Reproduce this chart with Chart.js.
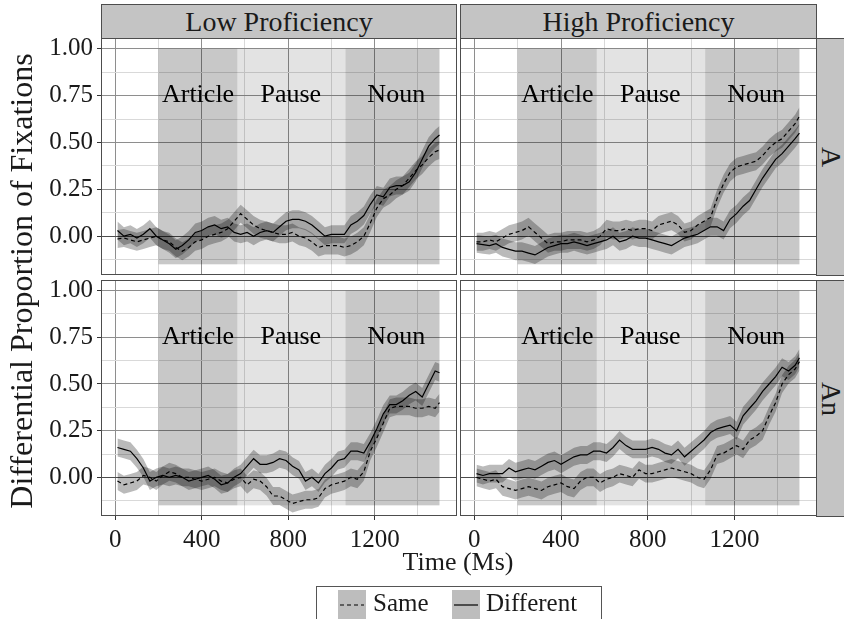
<!DOCTYPE html>
<html>
<head>
<meta charset="utf-8">
<script src="https://cdn.jsdelivr.net/npm/chart.js@4.4.0/dist/chart.umd.min.js"></script>
<style>
  body { margin: 0; width: 844px; height: 619px; background: #fff; position: relative; overflow: hidden;
         font-family: "Liberation Serif", "Times New Roman", serif; color: #1a1a1a; }
  canvas { position: absolute; }
  .strip { position: absolute; background: #c4c4c4; border: 1px solid #4d4d4d; box-sizing: border-box;
           display: flex; align-items: center; justify-content: center; font-size: 28px; }
  .vtext { transform: rotate(90deg); white-space: nowrap; }
  .title { position: absolute; white-space: nowrap; text-align: center; }
  .legend { position: absolute; left: 316px; top: 586px; width: 286px; height: 50px;
            border: 1px solid #555; box-sizing: border-box; }
  .key { position: absolute; top: 3px; width: 28px; height: 30px; background: #bdbdbd; }
  .ktext { position: absolute; top: 1px; font-size: 25px; line-height: 30px; }
</style>
</head>
<body>

<div class="strip" style="left:101px;top:4px;width:356px;height:35px;">Low Proficiency</div>
<div class="strip" style="left:460px;top:4px;width:357px;height:35px;">High Proficiency</div>
<div class="strip" style="left:816px;top:38px;width:30px;height:238px;"><span class="vtext">A</span></div>
<div class="strip" style="left:816px;top:280px;width:30px;height:237px;"><span class="vtext">An</span></div>

<canvas id="tl" width="457" height="237" style="left:0;top:38px;"></canvas>
<canvas id="tr" width="357" height="237" style="left:460px;top:38px;"></canvas>
<canvas id="bl" width="457" height="282" style="left:0;top:280px;"></canvas>
<canvas id="br" width="357" height="282" style="left:460px;top:280px;"></canvas>

<div class="title" style="left:358px;top:546px;width:200px;font-size:26px;line-height:32px;">Time (Ms)</div>
<div class="title" style="left:-279px;top:261px;width:600px;font-size:32px;line-height:40px;transform:rotate(-90deg);">Differential Proportion of Fixations</div>

<div class="legend">
  <div class="key" style="left:21px;">
    <svg width="28" height="30"><line x1="2" y1="15" x2="26" y2="15" stroke="#000" stroke-width="1.2" stroke-dasharray="4,3"/></svg>
  </div>
  <div class="ktext" style="left:56px;">Same</div>
  <div class="key" style="left:135px;">
    <svg width="28" height="30"><line x1="2" y1="15" x2="26" y2="15" stroke="#000" stroke-width="1.2"/></svg>
  </div>
  <div class="ktext" style="left:169px;">Different</div>
</div>

<script>
// time points (ms)
var times = [10, 40, 70, 100, 130, 160, 190, 220, 250, 280,
             310, 340, 370, 400, 430, 460, 490, 520, 550, 580,
             610, 640, 670, 700, 730, 760, 790, 820, 850, 880,
             910, 940, 970, 1000, 1030, 1060, 1090, 1120, 1150, 1180,
             1210, 1240, 1270, 1300, 1330, 1360, 1390, 1420, 1450, 1480,
             1500];

// Low proficiency, article "A"
var lowA_diff = [0.03, 0.00, 0.01, -0.01, 0.01, 0.04, 0.00, -0.02, -0.04, -0.07,
                 -0.05, -0.02, 0.02, 0.03, 0.05, 0.06, 0.04, 0.05, 0.02, 0.01,
                 0.02, 0.00, 0.02, 0.03, 0.02, 0.05, 0.08, 0.09, 0.09, 0.08,
                 0.06, 0.03, 0.00, 0.01, 0.01, 0.01, 0.06, 0.08, 0.11, 0.17,
                 0.22, 0.21, 0.26, 0.27, 0.27, 0.29, 0.34, 0.41, 0.48, 0.52,
                 0.54];
var lowA_same = [-0.015, -0.01, -0.02, -0.03, -0.02, -0.01, 0.00, -0.02, -0.03, -0.06,
                 -0.08, -0.06, -0.03, -0.02, 0.00, 0.01, 0.02, 0.04, 0.08, 0.12,
                 0.09, 0.06, 0.04, 0.03, 0.02, 0.01, 0.01, 0.02, 0.00, -0.01,
                 -0.03, -0.06, -0.05, -0.05, -0.05, -0.06, -0.05, -0.03, 0.00, 0.07,
                 0.15, 0.20, 0.22, 0.25, 0.27, 0.31, 0.35, 0.38, 0.42, 0.45,
                 0.46];

// High proficiency, article "A"
var highA_diff = [-0.04, -0.045, -0.05, -0.04, -0.06, -0.07, -0.08, -0.08, -0.09, -0.10,
                  -0.08, -0.06, -0.05, -0.04, -0.04, -0.03, -0.04, -0.05, -0.04, -0.03,
                  -0.02, 0.00, -0.03, -0.02, 0.00, -0.01, -0.01, -0.02, -0.03, -0.04,
                  -0.05, -0.03, -0.01, 0.00, 0.01, 0.03, 0.05, 0.05, 0.03, 0.09,
                  0.12, 0.16, 0.19, 0.25, 0.31, 0.36, 0.41, 0.44, 0.48, 0.52,
                  0.55];
var highA_same = [-0.03, -0.03, -0.02, -0.03, -0.01, 0.01, 0.02, 0.03, 0.05, 0.02,
                  -0.01, -0.04, -0.03, -0.03, -0.02, -0.02, -0.02, -0.03, -0.02, 0.00,
                  0.04, 0.03, 0.03, 0.04, 0.03, 0.04, 0.04, 0.03, 0.06, 0.07,
                  0.08, 0.06, 0.02, 0.03, 0.06, 0.08, 0.10, 0.20, 0.28, 0.34,
                  0.37, 0.38, 0.39, 0.40, 0.43, 0.47, 0.50, 0.52, 0.56, 0.60,
                  0.64];

// Low proficiency, article "An"
var lowAn_diff = [0.16, 0.15, 0.14, 0.10, 0.05, -0.02, 0.00, 0.01, 0.00, 0.01,
                  0.00, -0.02, -0.01, 0.00, 0.01, -0.01, -0.04, -0.03, 0.00, 0.02,
                  0.06, 0.10, 0.07, 0.07, 0.08, 0.10, 0.09, 0.06, 0.04, -0.02,
                  0.00, -0.03, 0.02, 0.05, 0.09, 0.10, 0.14, 0.14, 0.13, 0.19,
                  0.26, 0.34, 0.39, 0.39, 0.41, 0.44, 0.46, 0.43, 0.50, 0.57,
                  0.56];
var lowAn_same = [-0.02, -0.04, -0.03, -0.02, 0.01, 0.00, -0.02, 0.01, 0.03, 0.02,
                  0.00, 0.00, -0.01, -0.02, -0.01, 0.00, -0.02, -0.03, -0.01, 0.00,
                  -0.04, -0.01, -0.02, -0.05, -0.10, -0.10, -0.12, -0.14, -0.13, -0.12,
                  -0.12, -0.11, -0.06, -0.04, -0.03, -0.02, 0.00, -0.01, 0.03, 0.14,
                  0.21, 0.29, 0.37, 0.38, 0.38, 0.38, 0.37, 0.37, 0.38, 0.37,
                  0.40];

// High proficiency, article "An"
var highAn_diff = [0.02, 0.01, 0.02, 0.02, 0.02, 0.05, 0.03, 0.04, 0.05, 0.04,
                   0.06, 0.08, 0.09, 0.07, 0.09, 0.11, 0.12, 0.12, 0.14, 0.14,
                   0.13, 0.16, 0.20, 0.17, 0.15, 0.15, 0.15, 0.16, 0.15, 0.13,
                   0.12, 0.15, 0.11, 0.14, 0.17, 0.20, 0.24, 0.26, 0.27, 0.28,
                   0.25, 0.33, 0.37, 0.41, 0.46, 0.50, 0.54, 0.59, 0.57, 0.60,
                   0.64];
var highAn_same = [0.00, -0.01, -0.02, -0.01, -0.05, -0.06, -0.07, -0.06, -0.05, -0.06,
                   -0.07, -0.05, -0.04, -0.03, -0.05, -0.06, -0.02, 0.00, 0.00, -0.03,
                   -0.01, 0.00, 0.02, 0.01, 0.00, 0.04, 0.02, 0.02, 0.03, 0.04,
                   0.05, 0.04, 0.03, 0.02, 0.00, -0.01, 0.04, 0.12, 0.13, 0.15,
                   0.17, 0.15, 0.20, 0.22, 0.25, 0.33, 0.40, 0.50, 0.55, 0.58,
                   0.62];

// half width of the confidence ribbons
var ribbonHalf = 0.048;

// word regions
var regionNames = ['Article', 'Pause', 'Noun'];
var regionStart = [200, 565, 1065];
var regionEnd = [565, 1065, 1500];
var regionLabelX = [383, 812, 1300];
var regionLabelY = 0.75;
var regionBottom = -0.15, regionTop = 1.0;

var xTicks = [0, 200, 400, 600, 800, 1000, 1200, 1400];
var yTicks = [-0.125, 0, 0.125, 0.25, 0.375, 0.5, 0.625, 0.75, 0.875, 1.0];

var regionFill = ['rgba(0,0,0,0.215)', 'rgba(0,0,0,0.11)', 'rgba(0,0,0,0.215)'];
var ribbonFill = 'rgba(0,0,0,0.27)';
var serif = '"Liberation Serif", "Times New Roman", serif';

function isMajorX(v) { return v % 400 === 0; }
function isMajorY(v) { return Math.abs(v * 4 - Math.round(v * 4)) < 1e-9; }

// no extra room for overhanging tick labels, panels keep fixed size
function noPad(s) { s.paddingTop = 0; s.paddingBottom = 0; s.paddingLeft = 0; s.paddingRight = 0; }

var panelDeco = {
  id: 'panelDeco',
  beforeDatasetsDraw: function (chart) {
    var ctx = chart.ctx, a = chart.chartArea, x = chart.scales.x, y = chart.scales.y;
    ctx.save();
    ctx.beginPath(); ctx.rect(a.left, a.top, a.right - a.left, a.bottom - a.top); ctx.clip();
    var y0 = y.getPixelForValue(regionTop), y1 = y.getPixelForValue(regionBottom);
    for (var i = 0; i < regionStart.length; i++) {
      var x0 = x.getPixelForValue(regionStart[i]), x1 = x.getPixelForValue(regionEnd[i]);
      ctx.fillStyle = regionFill[i];
      ctx.fillRect(x0, y0, x1 - x0, y1 - y0);
    }
    ctx.restore();
  },
  afterDatasetsDraw: function (chart) {
    var ctx = chart.ctx, x = chart.scales.x, y = chart.scales.y;
    ctx.save();
    ctx.font = '26px ' + serif;
    ctx.fillStyle = '#000';
    ctx.textAlign = 'center';
    ctx.textBaseline = 'middle';
    for (var i = 0; i < regionNames.length; i++) {
      ctx.fillText(regionNames[i], x.getPixelForValue(regionLabelX[i]), y.getPixelForValue(regionLabelY));
    }
    ctx.restore();
  },
  afterDraw: function (chart) {
    var ctx = chart.ctx, a = chart.chartArea;
    ctx.save();
    ctx.strokeStyle = '#4d4d4d';
    ctx.lineWidth = 1;
    ctx.strokeRect(a.left + 0.5, a.top + 0.5, a.right - a.left - 1, a.bottom - a.top - 1);
    ctx.restore();
  }
};

function makePanel(id, same, diff, showY, showX) {
  var lower = function (arr) { return arr.map(function (v) { return v - ribbonHalf; }); };
  var upper = function (arr) { return arr.map(function (v) { return v + ribbonHalf; }); };
  var line = { pointRadius: 0, borderColor: '#000', borderWidth: 1.2, tension: 0, fill: false };
  var band = { pointRadius: 0, borderWidth: 0, borderColor: 'rgba(0,0,0,0)', tension: 0, backgroundColor: ribbonFill };

  new Chart(document.getElementById(id), {
    type: 'line',
    data: {
      labels: times,
      datasets: [
        Object.assign({ label: 'Same', data: same, borderDash: [4, 3] }, line),
        Object.assign({ label: 'Different', data: diff }, line),
        Object.assign({ data: upper(same), fill: 3 }, band),
        Object.assign({ data: lower(same), fill: false }, band),
        Object.assign({ data: upper(diff), fill: 5 }, band),
        Object.assign({ data: lower(diff), fill: false }, band)
      ].map(function (d) {
        d.data = d.data.map(function (v, i) { return { x: times[i], y: v }; });
        return d;
      })
    },
    options: {
      responsive: false,
      animation: false,
      devicePixelRatio: 1,
      layout: { padding: 0 },
      plugins: { legend: { display: false }, tooltip: { enabled: false } },
      scales: {
        x: {
          type: 'linear', min: -66, max: 1581,
          afterBuildTicks: function (s) { s.ticks = xTicks.map(function (v) { return { value: v }; }); },
          afterFit: function (s) { s.height = showX ? 46 : 0; noPad(s); },
          border: { display: false },
          grid: {
            color: function (c) { return isMajorX(c.tick.value) ? '#8e8e8e' : '#d9d9d9'; },
            tickColor: function (c) { return isMajorX(c.tick.value) ? '#333' : 'rgba(0,0,0,0)'; },
            lineWidth: 1, drawTicks: showX, tickLength: 4
          },
          ticks: {
            display: showX, autoSkip: false, maxRotation: 0, padding: 5,
            color: '#1a1a1a', font: { family: serif, size: 25 },
            callback: function (v) { return isMajorX(v) ? String(v) : ''; }
          }
        },
        y: {
          min: -0.207, max: 1.057,
          afterBuildTicks: function (s) { s.ticks = yTicks.map(function (v) { return { value: v }; }); },
          afterFit: function (s) { s.width = showY ? 101 : 0; noPad(s); },
          border: { display: false },
          grid: {
            color: function (c) {
              if (c.tick.value === 0) return '#4d4d4d';
              return isMajorY(c.tick.value) ? '#8e8e8e' : '#d9d9d9';
            },
            tickColor: function (c) { return isMajorY(c.tick.value) ? '#333' : 'rgba(0,0,0,0)'; },
            lineWidth: 1, drawTicks: showY, tickLength: 4
          },
          ticks: {
            display: showY, autoSkip: false, padding: 4,
            color: '#1a1a1a', font: { family: serif, size: 25 },
            callback: function (v) { return isMajorY(v) ? v.toFixed(2) : ''; }
          }
        }
      }
    },
    plugins: [panelDeco]
  });
}

makePanel('tl', lowA_same, lowA_diff, true, false);
makePanel('tr', highA_same, highA_diff, false, false);
makePanel('bl', lowAn_same, lowAn_diff, true, true);
makePanel('br', highAn_same, highAn_diff, false, true);
</script>
</body>
</html>
